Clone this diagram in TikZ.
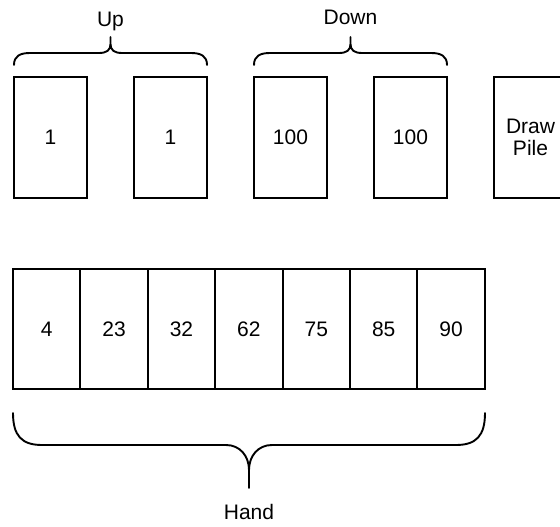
\documentclass[tikz,border=0pt]{standalone}
\usepackage{fontspec}
\setmainfont{Liberation Sans}
\begin{document}
\begin{tikzpicture}[x=1pt,y=-1pt,
  card/.style={draw=black,line width=1.9pt,minimum width=73pt,minimum height=121pt,inner sep=0pt,align=center,font=\fontsize{21}{21.5}\selectfont},
  cell/.style={draw=black,line width=1.9pt,minimum width=67.4pt,minimum height=120pt,inner sep=0pt,font=\fontsize{21}{21.5}\selectfont},
  lbl/.style={inner sep=0pt,font=\fontsize{21}{21.5}\selectfont},
  brace/.style={draw=black,line width=1.9pt,line cap=round}]
\clip (0,0) rectangle (560,527);
\fill[white] (0,0) rectangle (560,527);
% top cards
\node[card] (u1) at (50.5,137.5) {1};
\node[card] (u2) at (170.5,137.5) {1};
\node[card] (d1) at (290.5,137.5) {100};
\node[card] (d2) at (410.5,137.5) {100};
\node[card] (dp) at (530.5,137.5) {Draw\\Pile};
% hand
\foreach \v [count=\i] in {4,23,32,62,75,85,90}{
  \node[cell] (h\i) at ({13+67.4*(\i-0.5)},329) {\v};
}
% Up brace
\draw[brace] (14,65) .. controls (14,56) and (20,53) .. (30,53) -- (99,53)
  .. controls (107,53) and (110.5,50) .. (110.5,44) -- (110.5,37)
  (110.5,44) .. controls (110.5,50) and (114,53) .. (122,53) -- (191,53)
  .. controls (201,53) and (207,56) .. (207,65);
\node[lbl] (up) at (110.5,21) {Up};
% Down brace
\draw[brace] (254,65) .. controls (254,56) and (260,53) .. (270,53) -- (339,53)
  .. controls (347,53) and (350.5,50) .. (350.5,44) -- (350.5,37)
  (350.5,44) .. controls (350.5,50) and (354,53) .. (362,53) -- (431,53)
  .. controls (441,53) and (447,56) .. (447,65);
\node[lbl] (down) at (350.5,17) {Down};
% Hand brace
\draw[brace] (13,413) .. controls (13,436) and (22,445) .. (42,445) -- (226,445)
  .. controls (240,445) and (249,456) .. (249,470) -- (249,488)
  (249,470) .. controls (249,456) and (258,445) .. (272,445) -- (456,445)
  .. controls (476,445) and (485,436) .. (485,413);
\node[lbl] (hand) at (249,512) {Hand};
\end{tikzpicture}
\end{document}
